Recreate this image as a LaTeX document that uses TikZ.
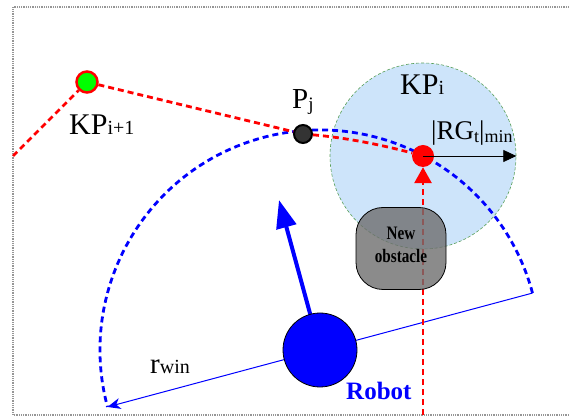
\documentclass[tikz,border=0pt]{standalone}
\usepackage{fontspec}
\setmainfont{Liberation Serif}
\usetikzlibrary{arrows.meta,calc}
\definecolor{zoneblue}{RGB}{205,228,250}
\definecolor{zonegreen}{RGB}{90,160,90}
\definecolor{obsgray}{RGB}{110,110,110}
\definecolor{framegray}{RGB}{150,150,150}
\newcommand{\fsz}[1]{\fontsize{#1}{#1}\selectfont}

\begin{document}
\begin{tikzpicture}[x=1pt,y=1pt,
  frameline/.style={framegray, line width=1.2pt, dash pattern=on 1pt off 0.8pt},
  zone/.style={circle, minimum size=186pt, inner sep=0pt, fill=zoneblue,
    draw=zonegreen, line width=0.6pt, dash pattern=on 3pt off 2pt},
  bluedash/.style={blue, line width=2.8pt, dash pattern=on 6pt off 4pt},
  reddash/.style={red, line width=2.8pt, dash pattern=on 6pt off 4pt},
  radiusline/.style={blue, line width=1pt, -{Stealth[length=13pt,width=11pt,inset=4pt]}},
  headarrow/.style={blue, line width=4pt, -{Triangle[length=28pt,width=20pt]}},
  kpnode/.style={circle, minimum size=21pt, inner sep=0pt, fill=green, draw=red, line width=2.5pt},
  pjnode/.style={circle, minimum size=18pt, inner sep=0pt, fill=black!80, draw=black, line width=2pt},
  rdot/.style={circle, minimum size=22pt, inner sep=0pt, fill=red},
  robotnode/.style={circle, minimum size=74pt, inner sep=0pt, fill=blue, draw=black, line width=0.8pt},
  obst/.style={rectangle, rounded corners=27pt, minimum width=90pt, minimum height=82pt,
    fill=obsgray, fill opacity=0.8, draw=black, line width=0.8pt},
  lbl/.style={inner sep=0pt, anchor=base west, font=\fsz{30}},
]
\useasboundingbox (0,0) rectangle (569,417);

% frame
\coordinate (ftl) at (13,410);
\coordinate (fbl) at (13,2);
\coordinate (ftr) at (569,410);
\coordinate (fbr) at (569,2);
\draw[frameline] (ftr) -- (ftl) -- (fbl) -- (fbr);

% reach zone around the key point
\node[zone] (zone) at (423,261) {};

% search window of the robot
\coordinate (rc) at (320,67);
\coordinate (arcE) at ($(rc)+(15:220)$);
\coordinate (arcW) at ($(rc)+(195:220)$);
\draw[bluedash] (arcE) arc[start angle=15, end angle=195, radius=220];
\draw[radiusline] (arcE) -- (arcW);

% heading
\coordinate (head) at (279,217);
\draw[headarrow] (rc) -- (head);

% path key points
\node[kpnode] (kpn) at (87,335) {};
\node[pjnode] (pj) at (303,283) {};
\node[rdot] (kpi) at (423,261) {};
\coordinate (lstart) at (13,261);
\draw[reddash] (lstart) -- (kpn) -- (pj) .. controls (350,279) and (390,270) .. (kpi);

% path shifted by the obstacle
\coordinate (rbot) at (423,2);
\draw[reddash, -{Triangle[length=16pt,width=17pt]}] (rbot) -- (kpi.south);

% obstacle
\node[obst] (obs) at (401,168.5) {};
\node[inner sep=0pt, align=center, font=\fontsize{19}{23}\selectfont\bfseries] (obstxt) at (401,172)
  {\scalebox{0.8}[1]{New}\\\scalebox{0.8}[1]{obstacle}};

% robot
\node[robotnode] (robot) at (rc) {};

% minimum radius
\draw[black, line width=0.8pt, -{Triangle[length=13pt,width=12pt]}] (kpi.center) -- (zone.east);

% labels
\node[lbl] (kpnlbl) at (69,282) {KP{\fsz{20}i+1}};
\node[lbl] (kpilbl) at (400,322) {KP{\fsz{20}i}};
\node[lbl, font=\fsz{29}] (pjlbl) at (292,308) {P\raisebox{-1.5pt}{\fsz{19}j}};
\node[lbl, font=\fsz{27}] (rglbl) at (431,277) {|RG\raisebox{-3pt}{\fsz{18}t}|\raisebox{-3pt}{\fsz{18}min}};
\node[lbl, font=\fsz{29}] (rwinlbl) at (150,44) {r{\fsz{20}win}};
\node[lbl, font=\fsz{25}\bfseries, text=blue] (robotlbl) at (346,18) {Robot};
\end{tikzpicture}
\end{document}
